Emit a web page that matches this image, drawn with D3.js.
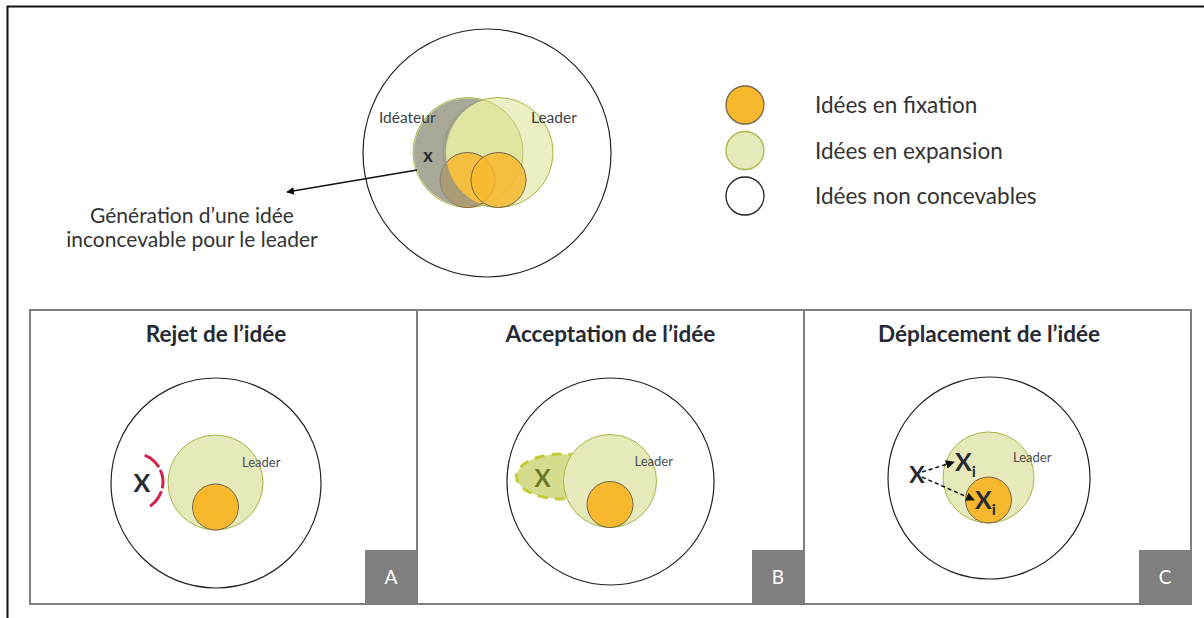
<!DOCTYPE html>
<html>
<head>
<meta charset="utf-8">
<script src="https://cdn.jsdelivr.net/npm/d3@7"></script>
<style>
  body { margin: 0; background: #fff; }
  text { font-family: Lato, "Open Sans", sans-serif; }
</style>
</head>
<body>
<div id="chart"></div>
<script>
// text content
const legendLabels = ["Idées en fixation", "Idées en expansion", "Idées non concevables"];
const legendKinds = ["fix", "exp", "none"];
const panelTitles = ["Rejet de l’idée", "Acceptation de l’idée", "Déplacement de l’idée"];
const panelLetters = ["A", "B", "C"];
const calloutLines = ["Génération d’une idée", "inconcevable pour le leader"];

const W = 1204, H = 618;
const col = {
  fix: "#f7b82e", fixStroke: "#75654c",
  exp: "#e6e9b9", expStroke: "#adb447",
  dark: "#262b33", grey: "#7f7f7f"
};

var svg = d3.select("#chart").append("svg")
    .attr("width", W).attr("height", H);

var defs = svg.append("defs");
defs.append("marker")
    .attr("id", "arrow")
    .attr("viewBox", "0 0 10 10")
    .attr("refX", 9).attr("refY", 5)
    .attr("markerWidth", 6).attr("markerHeight", 6)
    .attr("orient", "auto")
  .append("path").attr("d", "M0,0 L10,5 L0,10 z").attr("fill", "#111");

// outer frame (runs off the page right and bottom)
svg.append("path")
    .attr("d", "M7.5," + H + " V6.5 H" + W)
    .attr("fill", "none").attr("stroke", "#111").attr("stroke-width", 2);

/* ---------- TOP DIAGRAM ---------- */
var topG = svg.append("g");
topG.append("circle").attr("cx", 487).attr("cy", 153).attr("r", 124)
    .attr("fill", "none").attr("stroke", "#222").attr("stroke-width", 1.2);

// ideateur + leader expansion circles
var ide = {cx: 468, cy: 152.5, r: 55}, lead = {cx: 498, cy: 152.5, r: 55};
[ide, lead].forEach(function(c) {
  topG.append("circle").attr("cx", c.cx).attr("cy", c.cy).attr("r", c.r)
      .attr("fill", "#d4da7a").attr("fill-opacity", 0.45)
      .attr("stroke", col.expStroke).attr("stroke-width", 1);
});
// fixation circles
[467.5, 498.5].forEach(function(x) {
  topG.append("circle").attr("cx", x).attr("cy", 180).attr("r", 27.5)
      .attr("fill", col.fix).attr("fill-opacity", 0.85)
      .attr("stroke", col.fixStroke).attr("stroke-width", 1);
});
// grey crescent: ideateur minus leader
var mask = defs.append("mask").attr("id", "crescent");
mask.append("rect").attr("width", W).attr("height", H).attr("fill", "#fff");
mask.append("circle").attr("cx", lead.cx + 4).attr("cy", lead.cy).attr("r", lead.r + 1).attr("fill", "#000");
topG.append("circle").attr("cx", ide.cx).attr("cy", ide.cy).attr("r", ide.r - 1)
    .attr("fill", "#8e8e88").attr("fill-opacity", 0.72)
    .attr("mask", "url(#crescent)");

topG.append("text").attr("x", 379).attr("y", 123).attr("font-size", 15.5)
    .attr("fill", "#3a3f45").text("Idéateur");
topG.append("text").attr("x", 531).attr("y", 123).attr("font-size", 15.5)
    .attr("fill", "#3a3f45").text("Leader");
topG.append("text").attr("x", 428).attr("y", 162).attr("font-size", 18)
    .attr("font-weight", 700).attr("text-anchor", "middle")
    .attr("fill", col.dark).text("x");

topG.append("line").attr("x1", 417).attr("y1", 170).attr("x2", 287).attr("y2", 192)
    .attr("stroke", "#111").attr("stroke-width", 1.3).attr("marker-end", "url(#arrow)");

topG.selectAll(".callout").data(calloutLines).enter().append("text")
    .attr("class", "callout")
    .attr("x", 192).attr("y", function(d, i) { return 223 + i * 24; })
    .attr("text-anchor", "middle").attr("font-size", 21)
    .attr("fill", "#333").text(function(d) { return d; });

// legend
var ly = d3.scalePoint().domain(legendLabels).range([105, 196]);
var leg = svg.selectAll(".leg").data(legendLabels).enter().append("g")
    .attr("class", "leg")
    .attr("transform", function(d) { return "translate(745," + ly(d) + ")"; });
leg.append("circle").attr("r", 19)
    .attr("fill", function(d, i) { var k = legendKinds[i]; return k === "fix" ? col.fix : k === "exp" ? col.exp : "#fff"; })
    .attr("stroke", function(d, i) { var k = legendKinds[i]; return k === "fix" ? col.fixStroke : k === "exp" ? col.expStroke : "#222"; })
    .attr("stroke-width", 1.3);
leg.append("text").attr("x", 70).attr("y", 8).attr("font-size", 22.5)
    .attr("fill", "#333").text(function(d) { return d; });

/* ---------- PANELS ---------- */
var px = d3.scaleBand().domain(panelLetters).range([30, 1191]);
// circle centre and radius inside each panel
var geo = {A: {cx: 186, cy: 173, R: 105, r: 47.5},
           B: {cx: 193.5, cy: 171.5, R: 103.5, r: 46.5},
           C: {cx: 185, cy: 168, R: 101, r: 45.5}};

var panels = svg.selectAll(".panel").data(panelLetters).enter().append("g")
    .attr("class", "panel")
    .attr("transform", function(d) { return "translate(" + px(d) + ",310)"; });

panels.append("rect")
    .attr("width", px.bandwidth()).attr("height", 294)
    .attr("fill", "none").attr("stroke", col.grey).attr("stroke-width", 2);
panels.append("rect")
    .attr("x", px.bandwidth() - 52).attr("y", 240).attr("width", 52).attr("height", 54)
    .attr("fill", col.grey);
panels.append("text")
    .attr("x", px.bandwidth() - 26).attr("y", 274).attr("text-anchor", "middle")
    .attr("font-size", 19).attr("fill", "#fff").text(function(d) { return d; });
panels.append("text")
    .attr("x", function(d) { return geo[d].cx; }).attr("y", 32).attr("text-anchor", "middle")
    .attr("font-size", 22.5).attr("font-weight", 700).attr("fill", col.dark)
    .text(function(d, i) { return panelTitles[i]; });

panels.append("circle")
    .attr("cx", function(d) { return geo[d].cx; }).attr("cy", function(d) { return geo[d].cy; })
    .attr("r", function(d) { return geo[d].R; })
    .attr("fill", "none").attr("stroke", "#222").attr("stroke-width", 1.2);
panels.append("circle").attr("class", "leadc")
    .attr("cx", function(d) { return geo[d].cx - 0.5; }).attr("cy", function(d) { return geo[d].cy - 0.5; })
    .attr("r", function(d) { return geo[d].r; })
    .attr("fill", col.exp).attr("stroke", col.expStroke).attr("stroke-width", 1);
panels.append("circle")
    .attr("cx", function(d) { return geo[d].cx - 0.5; })
    .attr("cy", function(d) { return geo[d].cy - 0.5 + geo[d].r - 23; })
    .attr("r", 23)
    .attr("fill", col.fix).attr("stroke", col.fixStroke).attr("stroke-width", 1);
panels.append("text")
    .attr("x", function(d) { return geo[d].cx + (d === "A" ? 26 : 24); })
    .attr("y", function(d) { return geo[d].cy - 16; })
    .attr("font-size", 13).attr("fill", "#4a4f55").text("Leader");

// A: rejected idea
var gA = geo.A;
var pA = panels.filter(function(d) { return d === "A"; });
pA.append("text").attr("x", gA.cx - 74).attr("y", gA.cy + 9).attr("text-anchor", "middle")
    .attr("font-size", 25).attr("font-weight", 700).attr("fill", col.dark).text("X");
pA.append("path")
    .attr("d", d3.arc()({innerRadius: 29, outerRadius: 29, startAngle: Math.PI * 0.12, endAngle: Math.PI * 0.83}))
    .attr("transform", "translate(" + (gA.cx - 82) + "," + (gA.cy - 1) + ")")
    .attr("fill", "none").attr("stroke", "#d4234e").attr("stroke-width", 3)
    .attr("stroke-dasharray", "13,9");

// B: accepted idea
var gB = geo.B;
var pB = panels.filter(function(d) { return d === "B"; });
pB.insert("ellipse", ".leadc")
    .attr("cx", gB.cx - 49).attr("cy", gB.cy - 5).attr("rx", 45).attr("ry", 22.5)
    .attr("fill", "#d6dc8e").attr("stroke", "#c3cc35").attr("stroke-width", 3)
    .attr("stroke-dasharray", "10,7");
pB.append("text").attr("x", gB.cx - 68).attr("y", gB.cy + 5).attr("text-anchor", "middle")
    .attr("font-size", 24).attr("font-weight", 700).attr("fill", "#6b7a2a").text("X");

// C: displaced idea
var gC = geo.C;
var pC = panels.filter(function(d) { return d === "C"; });
pC.append("text").attr("x", gC.cx - 72).attr("y", gC.cy + 5).attr("text-anchor", "middle")
    .attr("font-size", 23).attr("font-weight", 700).attr("fill", col.dark).text("X");
[[gC.cx - 34, gC.cy - 7], [gC.cx - 14, gC.cy + 31]].forEach(function(p) {
  var t = pC.append("text").attr("x", p[0]).attr("y", p[1])
      .attr("font-size", 25).attr("font-weight", 700).attr("fill", col.dark);
  t.append("tspan").text("X");
  t.append("tspan").attr("font-size", 16).attr("dy", 6).text("i");
});
pC.append("line").attr("x1", gC.cx - 67).attr("y1", gC.cy - 6).attr("x2", gC.cx - 35).attr("y2", gC.cy - 16)
    .attr("stroke", "#111").attr("stroke-width", 1.5).attr("stroke-dasharray", "4,3")
    .attr("marker-end", "url(#arrow)");
pC.append("line").attr("x1", gC.cx - 67).attr("y1", gC.cy - 1).attr("x2", gC.cx - 15).attr("y2", gC.cy + 22)
    .attr("stroke", "#111").attr("stroke-width", 1.5).attr("stroke-dasharray", "4,3")
    .attr("marker-end", "url(#arrow)");
</script>
</body>
</html>
